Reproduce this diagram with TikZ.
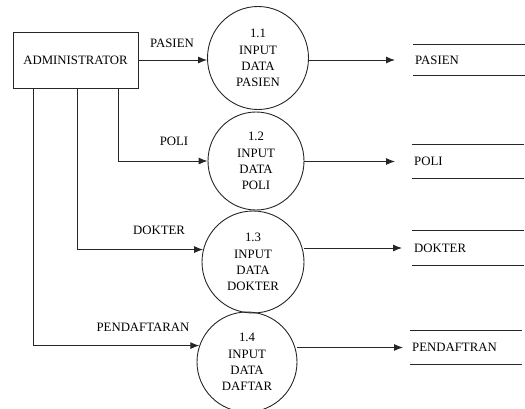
\documentclass[tikz,border=0pt]{standalone}
\usepackage{fontspec}
\setmainfont{Liberation Serif}
\usetikzlibrary{arrows.meta,shapes.geometric}
\begin{document}
\begin{tikzpicture}[x=1pt,y=-1pt,
  every node/.style={font=\fontsize{12.8}{16.2}\selectfont},
  line/.style={draw=black!85,line width=0.9pt},
  flow/.style={line,-{Latex[length=9pt,width=7pt]}},
  proc/.style={ellipse,line,inner sep=0pt,align=center},
  entity/.style={rectangle,line,minimum width=125pt,minimum height=56pt,inner sep=0pt},
  store/.style={anchor=west,minimum width=112pt,text width=108pt,inner xsep=2pt,align=left},
  lbl/.style={inner sep=1pt}]
\useasboundingbox (0,0) rectangle (525,408);
\node[entity] (admin) at (75.5,60) {ADMINISTRATOR};
\node[proc,minimum width=101pt,minimum height=103pt] (p1) at (258,58) {1.1\\INPUT\\DATA\\PASIEN};
\node[proc,minimum width=96pt,minimum height=98pt] (p2) at (256,161) {1.2\\INPUT\\DATA\\POLI};
\node[proc,minimum width=102pt,minimum height=102pt] (p3) at (253,262) {1.3\\INPUT\\DATA\\DOKTER};
\node[proc,minimum width=100pt,minimum height=100pt] (p4) at (247,362) {1.4\\INPUT\\DATA\\DAFTAR};
\node[store,minimum height=30pt] (s1) at (413,60) {PASIEN};
\node[store,minimum height=33pt] (s2) at (412,161.5) {POLI};
\node[store,minimum height=34pt] (s3) at (412,248) {DOKTER};
\node[store,minimum height=33pt] (s4) at (410,347.5) {PENDAFTRAN};
\foreach \s in {s1,s2,s3,s4}{
  \draw[line] (\s.north west) -- (\s.north east);
  \draw[line] (\s.south west) -- (\s.south east);
}
\coordinate (a2) at (118,0);
\coordinate (a3) at (77,0);
\coordinate (a4) at (33,0);
\draw[flow] (admin.east) -- (admin.east -| p1.west);
\draw[flow] (admin.south -| a2) |- (p2.west);
\draw[flow] (admin.south -| a3) |- (p3.166);
\draw[flow] (admin.south -| a4) |- (p4.161);
\draw[flow,shorten >=18pt] (p1.east |- s1.west) -- (s1.west);
\draw[flow,shorten >=17pt] (p2.east |- s2.west) -- (s2.west);
\draw[flow,shorten >=10pt] (p3.east |- s3.west) -- (s3.west);
\draw[flow,shorten >=7pt] (p4.east |- s4.west) -- (s4.west);
\node[lbl] (l1) at (172,43) {PASIEN};
\node[lbl] (l2) at (174,141) {POLI};
\node[lbl] (l3) at (159,230) {DOKTER};
\node[lbl] (l4) at (143,327) {PENDAFTARAN};
\end{tikzpicture}
\end{document}
